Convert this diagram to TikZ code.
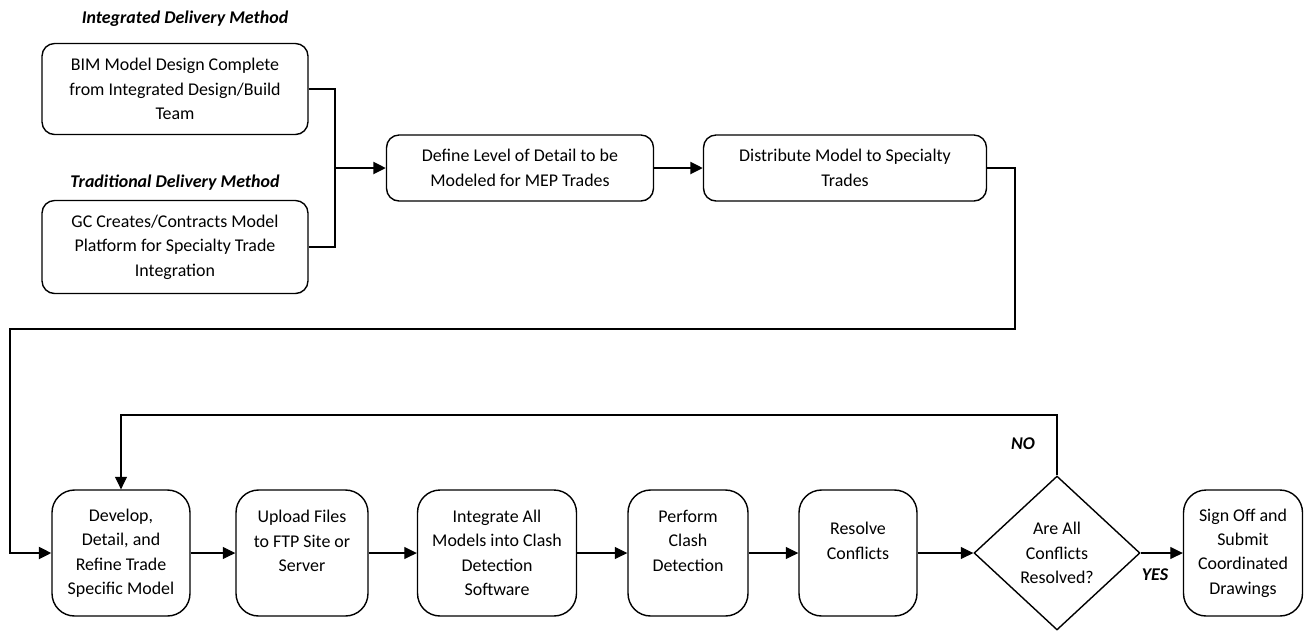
\documentclass[tikz,border=0pt]{standalone}
\usepackage{fontspec}
\setmainfont{Carlito}
\usetikzlibrary{arrows.meta,shapes.geometric}
\tikzset{
    block/.style = {draw, rectangle, rounded corners=0.25cm,
        line width=0.8pt, align=center, inner sep=2pt,
        font=\fontsize{10.2}{13.9}\selectfont},
    tallblock/.style = {block, rounded corners=0.45cm,
        minimum height=2.52cm},
    decision/.style = {draw, diamond, line width=0.8pt, align=center,
        inner sep=0pt, minimum width=3.32cm, minimum height=3.08cm,
        font=\fontsize{10.2}{13.9}\selectfont},
    heading/.style = {font=\fontsize{10.2}{12}\selectfont\bfseries\itshape},
    arrow/.style = {draw, -{Triangle[length=0.25cm,width=0.24cm]}, line width=0.6pt},
    thickarrow/.style = {arrow, line width=1.3pt},
    thickline/.style = {draw, line width=1.3pt}
}

\begin{document}
\begin{tikzpicture}[x=0.02cm,y=-0.02cm]
    \useasboundingbox (0,0) rectangle (1304,630);
    % delivery methods
    \node [heading] (intlabel) at (185,19) {Integrated Delivery Method};
    \node [block, minimum width=5.32cm, minimum height=1.82cm] (bim) at (175,89)
        {BIM Model Design Complete\\from Integrated Design/Build\\Team};
    \node [heading] (tradlabel) at (175,183) {Traditional Delivery Method};
    \node [block, minimum width=5.32cm, minimum height=1.86cm] (gc) at (175,247)
        {GC Creates/Contracts Model\\Platform for Specialty Trade\\Integration};
    \node [block, minimum width=5.34cm, minimum height=1.32cm] (define) at (520,168)
        {Define Level of Detail to be\\Modeled for MEP Trades};
    \node [block, minimum width=5.66cm, minimum height=1.32cm] (distribute) at (845,168)
        {Distribute Model to Specialty\\Trades};
    % coordination loop
    \node [tallblock, minimum width=2.76cm] (develop) at (121,553)
        {Develop,\\Detail, and\\Refine Trade\\Specific Model};
    \node [tallblock, minimum width=2.64cm] (upload) at (302,553)
        {Upload Files\\to FTP Site or\\Server\\~};
    \node [tallblock, minimum width=3.18cm] (integrate) at (497,553)
        {Integrate All\\Models into Clash\\Detection\\Software};
    \node [tallblock, minimum width=2.40cm] (perform) at (688,553)
        {Perform\\Clash\\Detection\\~};
    \node [tallblock, minimum width=2.36cm] (resolve) at (858,553)
        {Resolve\\Conflicts\\~};
    \node [decision] (check) at (1057,553) {Are All\\Conflicts\\Resolved?};
    \node [tallblock, minimum width=2.38cm] (signoff) at (1243,553)
        {Sign Off and\\Submit\\Coordinated\\Drawings};
    \node [heading] (nolabel) at (1023,444) {NO};
    \node [heading] (yeslabel) at (1155,575) {YES};

    \coordinate (merge) at (335,168);
    \coordinate (turn) at (10,329);
    \coordinate (noturn) at (1057,415);

    \draw [thickline] (bim.east) -| (merge) |- (gc.east);
    \draw [thickarrow] (merge) -- (define.west);
    \draw [thickarrow] (define.east) -- (distribute.west);
    \draw [thickarrow] (distribute.east) -- ++(28,0) |- (turn) |- (develop.west);

    \draw [arrow] (develop.east) -- (upload.west);
    \draw [arrow] (upload.east) -- (integrate.west);
    \draw [arrow] (integrate.east) -- (perform.west);
    \draw [arrow] (perform.east) -- (resolve.west);
    \draw [arrow] (resolve.east) -- (check.west);
    \draw [arrow] (check.east) -- (signoff.west);
    \draw [arrow] (check.north) -- (noturn) -| (develop.north);
\end{tikzpicture}
\end{document}
